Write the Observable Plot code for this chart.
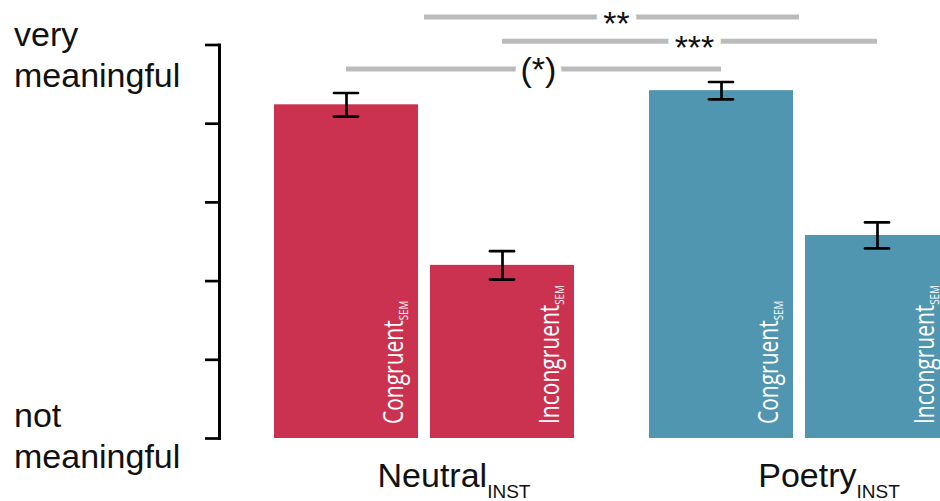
<!DOCTYPE html>
<html><head><meta charset="utf-8">
<script src="https://cdn.jsdelivr.net/npm/d3@7"></script>
<script src="https://cdn.jsdelivr.net/npm/@observablehq/plot@0.6"></script>
<style>
html,body{margin:0;padding:0;background:#fff;overflow:hidden}
#wrap{width:940px;height:501px;overflow:hidden}
#wrap svg{max-width:none !important}
</style>
</head><body><div id="wrap"></div>
<script>
// ---- data ----
const groups = ["Neutral", "Poetry"];
const groupSub = "INST";
const conditions = ["Congruent", "Incongruent"];
const condSub = "SEM";
const barGroup = ["Neutral", "Neutral", "Poetry", "Poetry"];
const barCond = ["Congruent", "Incongruent", "Congruent", "Incongruent"];
const barMean = [5.24, 3.20, 5.42, 3.58];
const barSem = [0.15, 0.18, 0.11, 0.165];
const yTicks = [1, 2, 3, 4, 5, 6];
const yTopLabel = ["very", "meaningful"];
const yBottomLabel = ["not", "meaningful"];
// significance brackets: endpoints (condition null = group centre), level in y units
const sigLabel = ["**", "***", "(*)"];
const sigFromGroup = ["Neutral", "Neutral", "Neutral"];
const sigFromCond = [null, "Incongruent", "Congruent"];
const sigToGroup = ["Poetry", "Poetry", "Poetry"];
const sigToCond = [null, "Incongruent", "Congruent"];
const sigLevel = [6.35, 6.04, 5.69];
const groupColors = ["#CB3250", "#5096B1"];

const bars = barGroup.map((g, i) => ({
  group: g, cond: barCond[i], mean: barMean[i],
  lo: barMean[i] - barSem[i], hi: barMean[i] + barSem[i]
}));

const chart = Plot.plot({
  width: 949, height: 501,
  marginLeft: 274, marginRight: 0, marginTop: 44.5, marginBottom: 63,
  style: {maxWidth: "none", overflow: "visible"},
  fx: {domain: groups, paddingInner: 0.2, paddingOuter: 0, axis: null, label: null},
  x: {domain: conditions, paddingInner: 12 / 156, paddingOuter: 0, axis: null, label: null},
  y: {domain: [1, 6], axis: null},
  color: {domain: groups, range: groupColors},
  marks: [
    Plot.barY(bars, {fx: "group", x: "cond", y1: 1, y2: "mean", fill: "group"}),
    Plot.ruleX(bars, {fx: "group", x: "cond", y1: "lo", y2: "hi", stroke: "#000", strokeWidth: 2.7}),
    Plot.tickY(bars, {fx: "group", x: "cond", y: "hi", insetLeft: 60, insetRight: 60, stroke: "#000", strokeWidth: 2.7, strokeLinecap: "round"}),
    Plot.tickY(bars, {fx: "group", x: "cond", y: "lo", insetLeft: 60, insetRight: 60, stroke: "#000", strokeWidth: 2.7, strokeLinecap: "round"}),
    Plot.axisY(yTicks, {tickSize: 14, dx: -55, fill: "none", label: null, stroke: "#000", strokeWidth: 2.7}),
    Plot.frame({anchor: "left", facetAnchor: "left", dx: -55, stroke: "#000", strokeWidth: 3})
  ]
});
chart.style.maxWidth = "none";
document.getElementById("wrap").appendChild(chart);

// ---- overlay using Plot's scales ----
const fxS = chart.scale("fx"), xS = chart.scale("x"), yS = chart.scale("y");
const groupCenter = g => fxS.apply(g) + fxS.bandwidth / 2;
const barCenter = (g, c) => fxS.apply(g) + (xS.apply(c) - xS.range[0]) + xS.bandwidth / 2;
const pos = (g, c) => c == null ? groupCenter(g) : barCenter(g, c);
const ov = d3.select(chart).append("g").attr("text-anchor", "start");
const sans = "'Liberation Sans', Arial, Helvetica, sans-serif";

// bar labels (rotated)
bars.forEach(b => {
  const xb = barCenter(b.group, b.cond) + xS.bandwidth / 2 - 15;
  const yb = yS.apply(1) - 14;
  const t = ov.append("text")
    .attr("transform", `translate(${xb},${yb}) rotate(-90) scale(0.75,1)`)
    .attr("text-anchor", "start")
    .attr("fill", "#fff")
    .style("font-family", "'Open Sans', sans-serif").style("font-size", "28px");
  t.append("tspan").text(b.cond);
  t.append("tspan").attr("dy", 5).style("font-size", "13px").text(condSub);
});

// group labels
groups.forEach(g => {
  const t = ov.append("text")
    .attr("x", groupCenter(g) + 30).attr("y", yS.apply(1) + 49)
    .attr("text-anchor", "middle").attr("fill", "#111")
    .style("font-family", sans).style("font-size", "34px");
  t.append("tspan").text(g);
  t.append("tspan").attr("dy", 11).style("font-size", "19px").text(groupSub);
});

// y end labels
function yLabel(lines, yBase) {
  const t = ov.append("text").attr("fill", "#111").attr("text-anchor", "start")
    .style("font-family", sans).style("font-size", "34px");
  lines.forEach((s, i) => t.append("tspan").attr("x", 14).attr("y", yBase + i * 41).text(s));
}
yLabel(yTopLabel, yS.apply(6) + 1);
yLabel(yBottomLabel, yS.apply(1) - 11);

// significance brackets
sigLabel.forEach((lab, i) => {
  const x1 = pos(sigFromGroup[i], sigFromCond[i]);
  const x2 = pos(sigToGroup[i], sigToCond[i]);
  const yl = yS.apply(sigLevel[i]);
  ov.append("line").attr("x1", x1).attr("x2", x2).attr("y1", yl).attr("y2", yl)
    .attr("stroke", "#BBBBBB").attr("stroke-width", 5);
  ov.append("text").attr("x", (x1 + x2) / 2 + 5).attr("y", yl + (lab.includes("(") ? 12 : 18))
    .attr("text-anchor", "middle").attr("fill", "#111")
    .attr("stroke", "#fff").attr("stroke-width", 14).attr("stroke-linejoin", "round")
    .attr("paint-order", "stroke")
    .style("font-family", sans).style("font-size", "34px").text(lab);
});
</script>
</body></html>
